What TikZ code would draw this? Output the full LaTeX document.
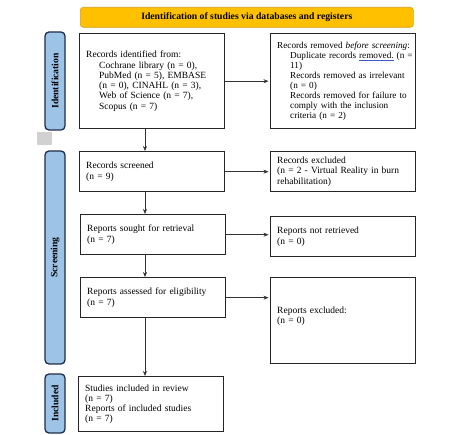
\documentclass[tikz,border=0pt]{standalone}
\usepackage{fontspec}
\setmainfont{Liberation Serif}
\usetikzlibrary{positioning, arrows.meta, calc}
\definecolor{headfill}{RGB}{255,192,0}
\definecolor{headline}{RGB}{214,160,20}
\definecolor{sidefill}{RGB}{157,195,230}
\definecolor{sideline}{RGB}{31,45,74}
\definecolor{wavy}{RGB}{60,90,200}
\newcommand{\ind}{\hspace*{13pt}}

\begin{document}
\begin{tikzpicture}[
    x=1pt, y=-1pt,
    box/.style={
        rectangle, draw=black!85, line width=1.4pt, anchor=north west,
        minimum width=145pt, minimum height=#1, text width=132pt,
        inner xsep=6.5pt, inner ysep=5pt, align=left,
        font=\fontsize{9.5}{10.3}\selectfont
    },
    box/.default=40pt,
    phase/.style={
        rectangle, rounded corners=4pt, draw=sideline, fill=sidefill,
        line width=1.3pt, rotate=90, minimum height=20pt, minimum width=#1,
        inner sep=0pt, font=\fontsize{9.6}{10}\selectfont\bfseries
    },
    flow/.style={-{Stealth[length=5pt, width=4pt]}, line width=0.6pt, draw=black!80}
]
\useasboundingbox (0,0) rectangle (472,435);

% Header
\node[rectangle, rounded corners=3pt, draw=headline, fill=headfill, line width=0.6pt,
      anchor=north west, minimum width=333pt, minimum height=20pt,
      font=\fontsize{9.7}{10}\selectfont\bfseries] (head) at (80,7)
    {Identification of studies via databases and registers};

% Phase labels
\node[phase=98pt] (pid) at (55,81) {Identification};
\node[phase=213pt] (pscr) at (55,257.5) {Screening};
\node[phase=59pt] (pinc) at (55,403.5) {Included};
\fill[black!18] (37,132) rectangle (52,145);

% Identification — row 1
\node[box=95pt] (rec) at (79,33) {Records identified from:\\
    \ind Cochrane library (n = 0),\\
    \ind PubMed (n = 5), EMBASE\\
    \ind (n = 0), CINAHL (n = 3),\\
    \ind Web of Science (n = 7),\\
    \ind Scopus (n = 7)};
\node[box=95pt, font=\fontsize{9.2}{10}\selectfont] (rem) at (270,33)
    {\mbox{Records removed \textit{before screening}:}\\
    \mbox{\ind Duplicate records {\color{wavy}\underline{\textcolor{black}{removed.}}} (n =}\\
    \ind 11)\\
    \mbox{\ind Records removed as irrelevant}\\
    \ind (n = 0)\\
    \mbox{\ind Records removed for failure to}\\
    \mbox{\ind comply with the inclusion}\\
    \mbox{\ind criteria (n = 2)}};

% Screening — rows 2 to 4
\node[box] (scr) at (79,151) {Records screened\\(n = 9)};
\node[box] (exc) at (270,151) {Records excluded\\(n = 2 - Virtual Reality in burn\\rehabilitation)};
\node[box] (sou) at (80,214) {Reports sought for retrieval\\(n = 7)};
\node[box] (ret) at (270,216) {Reports not retrieved\\(n = 0)};
\node[box] (ass) at (80,277) {Reports assessed for eligibility\\(n = 7)};
\node[box=86pt] (rex) at (270,277) {Reports excluded:\\(n = 0)\\ \mbox{}};

% Included — row 5
\node[box=55pt] (inc) at (78,376) {Studies included in review\\(n = 7)\\
    Reports of included studies\\(n = 7)};

% Main column
\coordinate (spine) at (145,0);
\draw[flow] (rec.south -| spine) -- (scr.north -| spine);
\draw[flow] (scr.south -| spine) -- (sou.north -| spine);
\draw[flow] (sou.south -| spine) -- (ass.north -| spine);
\draw[flow] (ass.south -| spine) -- (inc.north -| spine);

% Exclusions
\draw[flow, shorten >=1.5pt] (rec.east) -- (rec.east -| rem.west);
\draw[flow, shorten >=1.5pt] (scr.east) -- (scr.east -| exc.west);
\draw[flow, shorten >=1.5pt] (sou.east) -- (sou.east -| ret.west);
\draw[flow, shorten >=1.5pt] (ass.east) -- (ass.east -| rex.west);

\end{tikzpicture}
\end{document}
